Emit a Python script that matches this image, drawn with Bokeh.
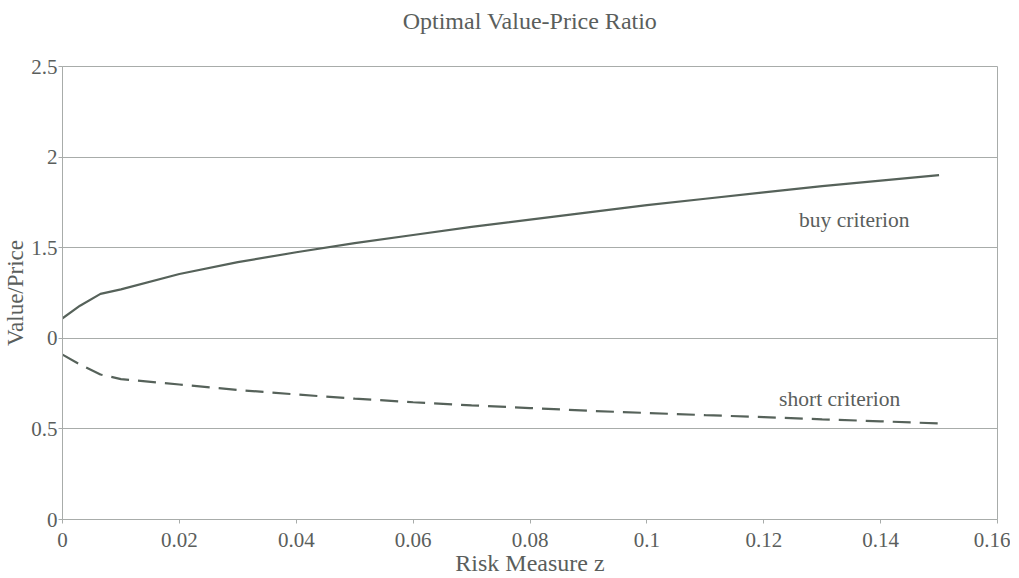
from bokeh.plotting import figure
from bokeh.models import Range1d, FixedTicker, Label, Title
from bokeh.embed import file_html
from bokeh.resources import INLINE

z = [0.0, 0.003, 0.0065, 0.01, 0.02, 0.03, 0.04, 0.05, 0.06, 0.07, 0.08, 0.09, 0.10, 0.11, 0.12, 0.13, 0.14, 0.15]
buy = [1.11, 1.18, 1.245, 1.27, 1.355, 1.42, 1.475, 1.525, 1.57, 1.615, 1.655, 1.695, 1.735, 1.77, 1.805, 1.84, 1.87, 1.90]
short = [0.91, 0.855, 0.80, 0.775, 0.745, 0.715, 0.69, 0.667, 0.647, 0.63, 0.615, 0.60, 0.588, 0.576, 0.565, 0.553, 0.542, 0.53]

x_ticks = [0, 0.02, 0.04, 0.06, 0.08, 0.1, 0.12, 0.14, 0.16]
x_tick_labels = ["0", "0.02", "0.04", "0.06", "0.08", "0.1", "0.12", "0.14", "0.16"]
y_ticks = [0, 0.5, 1, 1.5, 2, 2.5]
y_tick_labels = ["0", "0.5", "0", "1.5", "2", "2.5"]
title_text = "Optimal Value-Price Ratio"

FONT = "Liberation Serif"
TXT = "#5a5e5c"
LINE = "#56625a"
GRID = "#a8acaa"

p = figure(frame_width=935, frame_height=453, output_backend="svg", toolbar_location=None,
           x_range=Range1d(0, 0.16), y_range=Range1d(0, 2.5),
           min_border_left=55, min_border_right=13, min_border_top=66, min_border_bottom=58,
           title=title_text)
p.title.align = "center"
p.title.text_font = FONT
p.title.text_font_size = "24px"
p.title.text_font_style = "normal"
p.title.text_color = TXT
p.title.standoff = 2

# empty spacer between the title and the frame
p.add_layout(Title(text=" ", text_font_size="26px", standoff=0), "above")

p.line(z, buy, line_color=LINE, line_width=2.2)
p.line(z, short, line_color=LINE, line_width=2.2, line_dash="18 9")

p.add_layout(Label(x=0.1355, y=1.655, text="buy criterion", text_align="center", text_baseline="middle",
                   text_font=FONT, text_font_size="21.5px", text_color=TXT))
p.add_layout(Label(x=0.133, y=0.665, text="short criterion", text_align="center", text_baseline="middle",
                   text_font=FONT, text_font_size="21.5px", text_color=TXT))

p.xaxis.ticker = FixedTicker(ticks=x_ticks)
p.xaxis.major_label_overrides = {t: l for t, l in zip(x_ticks, x_tick_labels)}
p.yaxis.ticker = FixedTicker(ticks=y_ticks)
p.yaxis.major_label_overrides = {t: l for t, l in zip(y_ticks, y_tick_labels)}
p.xaxis.axis_label = "Risk Measure z"
p.yaxis.axis_label = "Value/Price"
for ax in (p.xaxis, p.yaxis):
    ax.axis_label_text_font = FONT
    ax.axis_label_text_font_style = "normal"
    ax.axis_label_text_color = TXT
    ax.major_label_text_font = FONT
    ax.major_label_text_font_size = "21px"
    ax.major_label_text_color = TXT
    ax.axis_line_color = GRID
    ax.major_tick_line_color = GRID
    ax.major_tick_out = 4
    ax.major_tick_in = 0
    ax.minor_tick_line_color = None
    ax.axis_label_standoff = 0
p.xaxis.axis_label_text_font_size = "24px"
p.yaxis.axis_label_text_font_size = "23px"
p.xaxis.major_label_standoff = 9
p.yaxis.major_label_standoff = 1
p.xgrid.grid_line_color = None
p.ygrid.grid_line_color = GRID
p.outline_line_color = GRID

open("out.html", "w").write(file_html(p, INLINE))
